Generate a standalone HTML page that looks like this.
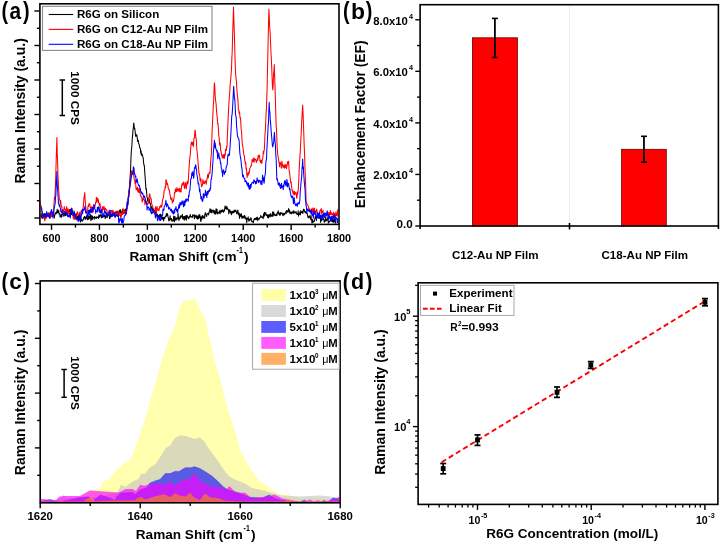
<!DOCTYPE html>
<html><head><meta charset="utf-8"><style>
html,body{margin:0;padding:0;background:#fff;}
svg{display:block;will-change:transform;}
text{font-family:"Liberation Sans",sans-serif;font-weight:bold;fill:#000;}
</style></head><body>
<svg width="721" height="543" viewBox="0 0 721 543">
<defs>
<clipPath id="ca"><rect x="40.6" y="4.6" width="297.6" height="219"/></clipPath>
<clipPath id="cc"><rect x="41" y="281.7" width="298.3" height="220.3"/></clipPath>
</defs>
<g clip-path="url(#ca)" fill="none" stroke-linejoin="round">
<path d="M39.8 215.31L40.13 216.57L40.46 213.72L40.79 216.8L41.12 213.49L41.45 216.24L41.78 218.01L42.11 215.6L42.44 218.44L42.77 213.39L43.1 214.69L43.43 214.18L43.76 215.56L44.09 216.65L44.42 213.66L44.75 213.75L45.08 213.54L45.41 214.42L45.74 218.53L46.07 214.94L46.4 214.26L46.73 214.78L47.06 214.08L47.39 214.03L47.72 215.38L48.05 214.19L48.38 214.18L48.71 214.36L49.04 215.41L49.37 213.45L49.7 214.75L50.03 215.52L50.36 214.73L50.69 214.55L51.02 213.86L51.35 212.14L51.68 215.42L52.01 216.58L52.34 216.59L52.67 216.12L53 214.67L53.35 215.35L53.7 216.39L54.05 215.23L54.4 217.94L54.75 214.98L55.1 213.26L55.45 212.64L55.8 214.06L56.15 213.21L56.5 212.02L56.85 213.12L57.2 209.16L57.57 211.47L57.94 212.6L58.31 211.9L58.69 210.22L59.06 214.24L59.43 214.18L59.8 213.68L60.14 217.27L60.48 215.56L60.82 216.48L61.16 214.71L61.5 217.15L61.84 216.71L62.18 212.59L62.52 213.27L62.86 214.23L63.2 214.44L63.54 213.09L63.88 214.6L64.22 213.07L64.56 213.18L64.9 215.99L65.24 212.32L65.58 213.21L65.92 215.74L66.26 210.01L66.6 213.1L66.94 209.82L67.28 212.86L67.62 216.11L67.96 212.25L68.3 210.94L68.64 210.21L68.98 209.94L69.32 212.2L69.66 209.47L70 211.98L70.34 209.73L70.68 209.17L71.02 213.33L71.36 214.68L71.69 211.65L72.03 211.12L72.37 210.44L72.71 215.51L73.05 215.9L73.39 213.77L73.73 213.5L74.07 211.1L74.41 213.89L74.74 215.07L75.08 216.59L75.42 217.29L75.76 214.4L76.1 216.75L76.43 219.3L76.77 217.96L77.1 217.67L77.43 215.98L77.77 219.03L78.1 218.23L78.43 214.89L78.77 216.9L79.1 217.01L79.43 219.62L79.77 218.01L80.1 220.16L80.44 221.97L80.78 220.9L81.12 220.56L81.46 218.79L81.8 219.95L82.14 221.24L82.48 220.24L82.82 220.24L83.16 220.24L83.5 218.39L83.84 217.28L84.18 217.8L84.52 216.48L84.86 216.7L85.2 219.6L85.54 217.53L85.87 218.63L86.21 217.43L86.55 215.71L86.88 216.85L87.22 218.84L87.56 219.72L87.89 219.72L88.23 215.65L88.57 217.39L88.9 219.06L89.24 218.66L89.58 216.69L89.91 215.5L90.25 214.14L90.59 218.28L90.92 220.79L91.26 215.24L91.6 218L91.93 218.98L92.27 219.8L92.61 216.12L92.94 217.75L93.28 217.85L93.62 217.42L93.95 217.47L94.29 219.14L94.63 216.41L94.96 218.03L95.3 217.72L95.64 217.21L95.98 218.06L96.32 218.45L96.66 216.78L97 217.48L97.34 216.93L97.68 217.17L98.02 218.04L98.36 218.44L98.7 215.87L99.04 214.89L99.38 215.87L99.72 217.28L100.06 214.98L100.4 215.79L100.74 215.64L101.07 214.39L101.41 217.74L101.75 216.01L102.08 217.61L102.42 215.87L102.76 214.05L103.09 216.86L103.43 216.46L103.77 215.67L104.1 216.43L104.44 214.87L104.78 215.17L105.11 218.37L105.45 218.22L105.79 217.33L106.12 215.44L106.46 216.1L106.8 215.78L107.13 217.78L107.47 215.07L107.81 215.83L108.14 214.89L108.48 212.76L108.82 213.68L109.15 213.84L109.49 218.65L109.83 217.33L110.16 217.84L110.5 215.3L110.84 216.66L111.17 215.41L111.51 214.27L111.85 216.3L112.19 212.43L112.53 214.11L112.86 211.53L113.2 211.77L113.54 214.1L113.88 214.29L114.21 212.27L114.55 212.82L114.89 214.3L115.22 213.68L115.56 212.37L115.9 215.7L116.24 211.38L116.57 213.55L116.91 212.62L117.25 213.49L117.59 211.28L117.92 213.57L118.26 212.06L118.6 213.08L118.94 212.66L119.28 213.74L119.62 210.07L119.97 209.84L120.31 209.54L120.65 213.28L120.99 213.36L121.33 212.03L121.67 212.15L122.02 213.03L122.36 209.6L122.7 212.93L123.03 210.28L123.37 210.81L123.7 212.83L124.03 209.75L124.37 213.32L124.7 211.46L125.03 210.07L125.37 209.56L125.7 211.81L126.13 208.25L126.57 208.84L127 208.67L127.34 205.06L127.69 202.69L128.03 198.41L128.38 197.11L128.72 191.59L129.07 190.51L129.41 187.01L129.76 181.55L130.1 177.19L130.47 171.91L130.83 162.33L131.2 152.93L131.56 148.81L131.91 145.57L132.27 138.27L132.63 135.44L132.99 129.97L133.34 127.56L133.7 122.92L134.05 125.31L134.4 128.97L134.75 128.22L135.1 130.96L135.45 134.9L135.8 136.48L136.15 134.53L136.5 135.98L136.86 134.89L137.21 137.76L137.57 141.43L137.92 140.01L138.28 140.41L138.63 143.36L138.99 144.1L139.34 145L139.7 147.92L140.04 147.78L140.39 149.23L140.73 153.23L141.08 150.83L141.42 155.35L141.77 153.72L142.11 154.56L142.46 154.71L142.8 156.92L143.18 157.66L143.55 162.24L143.93 165.16L144.3 165.18L144.73 172.1L145.17 177.8L145.6 184.14L145.95 189.38L146.3 188.51L146.65 192.61L147 197.21L147.35 197.79L147.7 201.2L148.06 201.24L148.42 201.13L148.78 201.56L149.14 202.98L149.5 199.47L149.86 203.17L150.22 202.98L150.58 203.75L150.94 208.96L151.3 208.49L151.63 206.8L151.96 207.5L152.29 208.23L152.62 210.36L152.96 211.5L153.29 209.29L153.62 210.41L153.95 210.78L154.28 212.06L154.61 211.15L154.94 213.43L155.28 212.16L155.61 211.33L155.94 211.96L156.27 214.55L156.6 213.75L156.94 213.74L157.28 214.24L157.62 216.82L157.96 215.66L158.29 215.29L158.63 217.06L158.97 216.52L159.31 217.62L159.65 214.61L159.99 217.84L160.33 216.33L160.67 214.11L161.01 217.17L161.34 215.11L161.68 218.1L162.02 219.46L162.36 217.42L162.7 218.97L163.03 217.25L163.37 218.72L163.7 220.86L164.03 217.52L164.36 217.25L164.7 218.38L165.03 217.24L165.36 216.91L165.69 215.88L166.03 216.7L166.36 213.62L166.69 215.62L167.02 215.45L167.36 213.7L167.69 214.61L168.02 216.94L168.36 218.21L168.69 220.08L169.02 221.02L169.35 219L169.69 220.3L170.02 215.67L170.35 218.61L170.68 218.91L171.02 219.96L171.35 218.38L171.68 219.87L172.02 221.37L172.35 220.33L172.68 219.98L173.01 220.69L173.35 220.8L173.68 215.96L174.01 217.85L174.34 221.91L174.68 218.45L175.01 216.41L175.34 219.77L175.68 218.8L176.01 220.38L176.34 218.35L176.67 217.9L177.01 218.94L177.34 218.54L177.67 218.91L178 213.37L178.34 217.06L178.67 219.64L179 220.49L179.33 218.08L179.67 218.1L180 217.33L180.33 215.8L180.67 218.42L181 217.06L181.34 216.07L181.67 216.35L182 216.06L182.34 214.32L182.67 218.61L183.01 217.63L183.34 219.11L183.67 216.42L184.01 217.89L184.34 220.15L184.68 216.28L185.01 218.66L185.34 218.92L185.68 216.81L186.01 215.46L186.35 220.3L186.68 216.68L187.01 215.35L187.35 215.96L187.68 217.43L188.02 217L188.35 218.64L188.69 217.46L189.02 218.55L189.35 216.15L189.69 216.37L190.02 216.91L190.36 214.63L190.69 217.03L191.02 216.46L191.36 216.92L191.69 217.02L192.03 216.5L192.36 217.56L192.69 214.7L193.03 215.18L193.36 214.99L193.7 215.89L194.03 215.45L194.36 218.84L194.7 214.88L195.03 217.09L195.37 216.22L195.7 217.15L196.03 215.13L196.36 216.78L196.7 218.38L197.03 217.68L197.36 216.32L197.69 219.17L198.02 218.93L198.36 215.12L198.69 218.51L199.02 216.26L199.35 217.69L199.68 214.41L200.01 216.34L200.35 217.09L200.68 221.34L201.01 221.39L201.34 217.03L201.67 216.74L202.01 218.86L202.34 215.23L202.67 217.36L203 216.72L203.33 218.04L203.67 217.23L204 215.89L204.33 216.87L204.66 218.5L204.99 214.29L205.33 212.64L205.66 213.33L205.99 214.42L206.32 215.66L206.65 216.43L206.99 214.5L207.32 213.95L207.65 213.42L207.98 213.93L208.31 213.37L208.64 215.01L208.98 212.46L209.31 211.47L209.64 211.66L209.97 208.85L210.3 212.31L210.64 210.96L210.97 209.19L211.3 212.78L211.64 210.4L211.97 212.88L212.31 210.83L212.64 210.22L212.98 210.14L213.31 210.04L213.65 212.38L213.99 210.4L214.32 213.88L214.66 211.14L214.99 212.37L215.33 212.95L215.66 214.17L216 208.86L216.34 209.17L216.67 212.86L217.01 209.16L217.34 214.05L217.68 213.86L218.01 212.46L218.35 212.85L218.69 212.47L219.02 213.05L219.36 210.72L219.69 210.92L220.03 213.92L220.36 211.57L220.7 211.31L221.04 209.91L221.38 211.64L221.71 212.21L222.05 211.16L222.39 209.78L222.73 211.33L223.07 210.34L223.4 212.29L223.74 211.69L224.08 209.93L224.42 210.91L224.76 208.42L225.1 205.89L225.43 206.95L225.77 208.62L226.11 207.82L226.45 209.12L226.79 206.4L227.12 207.4L227.46 209.09L227.8 208.89L228.13 209.96L228.47 209.54L228.8 214.03L229.13 209.93L229.47 210.68L229.8 209.71L230.13 212.01L230.47 212.95L230.8 211.25L231.13 211.94L231.47 214.64L231.8 213.46L232.13 211.19L232.47 212.03L232.8 212.87L233.13 211.23L233.47 212.51L233.8 212.64L234.13 209.96L234.47 210.79L234.8 212.04L235.14 211.35L235.48 210.47L235.82 210.12L236.16 211.29L236.5 212.39L236.83 213.87L237.17 213.25L237.51 211.27L237.85 210.09L238.19 213.34L238.53 214.76L238.87 212.71L239.21 215.32L239.55 218.45L239.89 214L240.23 214.88L240.57 215.91L240.9 216.44L241.24 213.62L241.58 215.78L241.92 218.55L242.26 217.45L242.6 216.11L242.95 217.32L243.29 217.85L243.64 216.66L243.99 217.53L244.33 215.32L244.68 218.06L245.03 216.01L245.37 219.01L245.72 218.45L246.07 217.77L246.41 218.39L246.76 222.89L247.11 218.35L247.45 219.27L247.8 218.9L248.14 216.87L248.49 219.3L248.83 221.28L249.17 220.87L249.52 219.03L249.86 219.23L250.2 220.15L250.55 219.41L250.89 217.65L251.23 218.75L251.58 220.94L251.92 221.85L252.27 221.6L252.61 221.86L252.95 221.32L253.3 222.87L253.64 220.62L253.98 219.61L254.33 218.47L254.67 218.88L255.01 219.77L255.36 218.2L255.7 218.49L256.04 218.88L256.38 219.73L256.71 217.31L257.05 217.3L257.39 217.37L257.73 220.78L258.06 218.68L258.4 218.66L258.74 218.32L259.08 219.37L259.42 217.93L259.75 218.21L260.09 217.5L260.43 216.9L260.77 215.48L261.11 216.78L261.44 217.2L261.78 216.72L262.12 217.46L262.46 217.12L262.79 217.37L263.13 218.81L263.47 214.18L263.81 216.91L264.15 212.83L264.48 215.97L264.82 212.16L265.16 214.05L265.5 213.11L265.84 213L266.17 215.59L266.51 214.7L266.85 215.52L267.19 214.82L267.52 217.55L267.86 216.55L268.2 214.81L268.53 218.07L268.87 215.08L269.2 215.01L269.54 214.52L269.87 216.6L270.2 216.84L270.54 213.58L270.87 214.74L271.21 216.13L271.54 215.33L271.87 215.19L272.21 216.43L272.54 211.86L272.88 213.85L273.21 216.07L273.54 212.05L273.88 212.72L274.21 214.94L274.55 215.26L274.88 214.4L275.21 215.69L275.55 214.84L275.88 215.5L276.22 215.42L276.55 213.85L276.89 215.56L277.22 213.6L277.55 212.41L277.89 212.02L278.22 210.86L278.56 213.92L278.89 212.93L279.22 214.61L279.56 213.08L279.89 215.4L280.23 215.07L280.56 212.46L280.89 213.63L281.23 212.98L281.56 213.68L281.9 213.58L282.23 213.05L282.56 214.04L282.9 215.73L283.23 215.53L283.57 213.4L283.9 213.55L284.23 214.28L284.56 214.75L284.9 213.95L285.23 212.65L285.56 211.91L285.89 212.51L286.22 213.34L286.56 210.78L286.89 210.56L287.22 211.15L287.55 212.09L287.88 210.68L288.21 211.7L288.55 208.44L288.88 211.89L289.21 210.35L289.54 209.85L289.87 213.44L290.21 212.97L290.54 211.99L290.87 212.92L291.2 213.93L291.53 213.34L291.87 211.85L292.2 213L292.53 212.83L292.86 212.92L293.19 210.74L293.53 213.55L293.86 211.06L294.19 211.7L294.52 212.49L294.85 213.05L295.19 211.89L295.52 212.73L295.85 212.16L296.18 211.77L296.51 213.81L296.84 213.46L297.18 214.49L297.51 214.33L297.84 214.46L298.17 210.69L298.5 216.29L298.84 214.04L299.17 214.58L299.5 214.16L299.83 212.12L300.16 214.34L300.49 214.74L300.82 210.51L301.15 211.76L301.48 212.53L301.82 212.2L302.15 211.43L302.48 212.65L302.81 213.43L303.14 212.21L303.47 209.15L303.8 210.33L304.15 209.46L304.51 211.39L304.86 211.71L305.22 212.78L305.57 211.49L305.92 212.69L306.28 212.21L306.63 213.41L306.98 212.45L307.34 214.3L307.69 216.01L308.05 217.57L308.4 217.78L308.73 217.11L309.06 216.17L309.39 215.78L309.73 217.28L310.06 216.98L310.39 219.27L310.72 217.46L311.05 214.94L311.38 220.26L311.71 219.72L312.05 224.46L312.38 219.18L312.71 222.34L313.04 220.68L313.37 221.41L313.7 221.83L314.03 221.58L314.37 221.3L314.7 218.87L315.03 218.52L315.36 215.97L315.69 218.19L316.02 215.94L316.35 220.59L316.69 217.58L317.02 216.91L317.35 217.64L317.68 216.59L318.01 217.83L318.34 216.83L318.67 216.13L319.01 218.31L319.34 215.23L319.67 218L320 218.52L320.33 215.63L320.67 222.38L321 218.95L321.33 219.7L321.67 220.44L322 218.09L322.33 218.5L322.67 218.73L323 219.42L323.33 218.37L323.67 219.91L324 220.34L324.33 222.34L324.67 220.13L325 221.44L325.33 221.17L325.67 216.87L326 219.22L326.33 219.13L326.67 220.85L327 220.13L327.33 219.83L327.67 218.69L328 217.27L328.33 223.67L328.67 221.99L329 221.69L329.33 222.04L329.67 221.07L330 221.12L330.33 220.23L330.67 218.51L331 220.7L331.33 219.06L331.67 220.4L332 221.17L332.33 219.72L332.67 222.04L333 219.35L333.33 219.99L333.67 222.41L334 219.93L334.33 221.01L334.67 218.86L335 221.49L335.33 223.4L335.67 223.85L336 221.55" stroke="#000" stroke-width="1.05"/>
<path d="M39.8 199.52L40.14 200.99L40.48 204.71L40.82 206.5L41.16 206.21L41.5 207.96L41.87 211.22L42.24 214.91L42.61 217.15L42.99 217.94L43.36 216.59L43.73 217.87L44.1 217.96L44.46 217.7L44.83 221.03L45.19 218.7L45.55 218.34L45.91 215.64L46.27 215.23L46.64 217.93L47 214.3L47.36 214.18L47.71 215.5L48.07 212.51L48.42 215.68L48.78 213.99L49.13 212.97L49.49 215.78L49.84 215.2L50.2 216.41L50.55 217.98L50.9 213.44L51.25 215.62L51.6 213.51L51.95 216.58L52.3 216.24L52.65 215.11L53 212.6L53.35 214.23L53.7 209.54L54.06 202.76L54.42 197.23L54.78 198.9L55.14 190.98L55.5 182.61L55.85 172.96L56.2 159.51L56.55 148.2L56.9 137.56L57.23 153.24L57.57 160.98L57.9 173.79L58.27 181.64L58.63 189.08L59 194.37L59.34 198.85L59.68 199.82L60.02 200.98L60.36 203.87L60.7 200.42L61.06 204.49L61.42 206.84L61.78 206.15L62.14 212.71L62.5 210.62L62.85 209.61L63.2 210.55L63.55 214.38L63.9 210.17L64.25 206.51L64.6 208.96L64.95 209.24L65.3 209.02L65.65 212.41L66 212.01L66.33 211.35L66.67 206.45L67 209.54L67.33 210.46L67.67 212.94L68 208.78L68.33 213.38L68.67 210.71L69 212.58L69.33 212.98L69.67 214.51L70 213.06L70.33 212.69L70.67 212.66L71 212.57L71.33 209.47L71.67 208.06L72 208.67L72.35 210.61L72.7 211.74L73.05 215.39L73.4 218.99L73.75 216.79L74.1 218.67L74.43 216.57L74.77 219.45L75.1 218.9L75.43 218.41L75.77 216.64L76.1 213.85L76.43 216.52L76.77 213.16L77.1 212.8L77.43 211.76L77.77 213.56L78.1 214.8L78.44 215.15L78.78 214.44L79.12 215.22L79.47 212.37L79.81 214.88L80.15 216.23L80.49 214.26L80.83 212.3L81.17 210.64L81.52 211L81.86 211.77L82.2 212.56L82.56 210.4L82.91 208.67L83.27 207.3L83.63 202.13L83.99 197.22L84.34 195.99L84.7 192.61L85.08 198.94L85.45 203.59L85.83 207.3L86.2 210.4L86.54 211.32L86.89 212L87.23 210.7L87.58 211.47L87.92 206.96L88.27 205.45L88.61 206.37L88.96 203.49L89.3 204.79L89.63 203.89L89.97 205.31L90.3 207.67L90.63 207.4L90.97 209.06L91.3 207.28L91.63 206.7L91.97 209.87L92.3 212.34L92.64 210.95L92.98 211.01L93.32 211.91L93.66 204.48L94 208.77L94.34 206.05L94.68 207.92L95.02 205.39L95.36 204.23L95.7 201.79L96.04 202.7L96.38 197.21L96.72 201.9L97.06 199.61L97.4 198.91L97.73 198.1L98.07 202.12L98.4 199.88L98.73 202.91L99.07 203.19L99.4 205.62L99.73 203.35L100.07 203.57L100.4 207.96L100.74 206.67L101.08 210.44L101.42 210.77L101.76 209.39L102.1 212.1L102.44 208.57L102.78 206.56L103.12 206.56L103.46 208.21L103.8 209.82L104.14 206.6L104.48 209.74L104.82 209.96L105.16 208.92L105.5 208.17L105.83 209.35L106.17 209.66L106.5 210.27L106.83 209.89L107.17 212.32L107.5 214.31L107.83 213.8L108.17 214.3L108.5 215.26L108.83 212.24L109.17 211.53L109.5 214.49L109.83 214.17L110.17 212.03L110.5 213.08L110.84 213.77L111.18 212.15L111.52 210.33L111.86 210.58L112.2 211.54L112.54 212.91L112.88 210.13L113.22 213.6L113.56 212.91L113.9 212.69L114.24 213L114.58 214.33L114.92 213.88L115.26 217.49L115.6 213.86L115.94 211.39L116.28 215.58L116.62 215.27L116.96 214.71L117.3 213.36L117.64 215.54L117.98 210.75L118.32 214.99L118.66 215.65L119 214.16L119.34 215.01L119.68 212.29L120.02 215.92L120.36 214.65L120.7 217.46L121.03 214.82L121.37 216.5L121.7 212.84L122.03 214.91L122.37 214.6L122.7 213.94L123.03 208.39L123.37 213.85L123.7 213.1L124.03 210.16L124.37 210.07L124.7 210.58L125.03 212.51L125.37 213.73L125.7 215.33L126.08 211.04L126.47 211.52L126.85 211L127.23 208.03L127.62 205.02L128 202.76L128.36 196.67L128.71 194.35L129.07 191.3L129.42 188.09L129.78 186.33L130.13 182.23L130.49 183.16L130.84 178.56L131.2 177.06L131.54 170.74L131.88 174.52L132.22 172.79L132.56 171.36L132.9 171.23L133.26 171.09L133.62 174.91L133.98 176.85L134.34 179.77L134.7 180.1L135.06 183.58L135.42 180.64L135.78 185.43L136.14 189.65L136.5 187.91L136.85 189.09L137.2 190.14L137.55 187.17L137.9 191.91L138.25 189.01L138.6 189.33L138.95 192.68L139.3 188.64L139.65 192.52L140 191.88L140.35 194.91L140.7 195.32L141.06 197.06L141.41 196.95L141.77 196.8L142.12 201.99L142.48 201.52L142.83 198.66L143.19 198.27L143.54 199.75L143.9 199.72L144.26 199.95L144.61 200.78L144.97 204.85L145.32 199.21L145.68 200.43L146.03 203.29L146.39 202.46L146.74 203.33L147.1 203.91L147.44 204.63L147.78 204.29L148.11 204.13L148.45 197.98L148.79 200.74L149.12 197.88L149.46 193.85L149.8 194.18L150.17 196.81L150.54 197.39L150.91 199.41L151.29 198.92L151.66 203.26L152.03 205.01L152.4 205.67L152.77 207.51L153.14 207.5L153.51 209.65L153.89 210.76L154.26 211.83L154.63 213.82L155 208.64L155.35 209.44L155.7 206.57L156.05 208.59L156.4 213.37L156.75 210.67L157.1 206.6L157.45 209.77L157.8 209.8L158.15 210.25L158.5 210.47L158.86 208.61L159.21 210.32L159.57 206.64L159.92 206.77L160.28 207.38L160.63 205.21L160.99 205.24L161.34 205.96L161.7 207.14L162.05 204.39L162.4 201.08L162.75 199.13L163.1 197.96L163.45 197.95L163.8 194.29L164.15 190.63L164.5 189.98L164.85 189.85L165.2 186.3L165.55 187.79L165.9 179.7L166.26 180.26L166.61 181.46L166.97 184.84L167.32 183.23L167.68 184.04L168.03 186.46L168.39 188.81L168.74 188.99L169.1 190.17L169.46 189.89L169.81 194.25L170.17 194.31L170.52 198.39L170.88 199.27L171.23 199.61L171.59 199.25L171.94 197.61L172.3 203.08L172.63 200.75L172.96 200.58L173.29 201.67L173.62 199.21L173.96 199.28L174.29 194.79L174.62 192.17L174.95 193.07L175.28 189.97L175.61 188.81L175.94 191.76L176.28 189.48L176.61 191.37L176.94 187.61L177.27 190.13L177.6 188.96L177.95 191.33L178.3 190.12L178.65 190.21L179 188.4L179.35 191.45L179.7 189.6L180.05 188.51L180.4 192.14L180.75 191.38L181.1 191.8L181.45 187.51L181.8 185.2L182.14 183.57L182.47 183.62L182.81 185.26L183.15 182.28L183.48 184.06L183.82 182.01L184.16 186.12L184.49 188.54L184.83 186.84L185.17 184.78L185.51 182.67L185.84 184.42L186.18 188.91L186.52 187.59L186.85 183.64L187.19 181.23L187.53 184.09L187.86 183.94L188.2 181.86L188.53 176.73L188.87 170.83L189.2 166.02L189.53 160.78L189.87 157.3L190.2 155.57L190.57 149.96L190.93 144.74L191.3 142.72L191.67 141.98L192.03 144.33L192.4 144.87L192.77 142.33L193.13 144.87L193.5 146.46L193.85 138.87L194.2 137.52L194.55 137.87L194.9 130.23L195.24 130.6L195.58 134.71L195.92 137.82L196.26 138.79L196.6 145.55L196.97 150.76L197.33 153.51L197.7 157.53L198.07 162.96L198.43 166.84L198.8 171.17L199.14 174.02L199.49 173.74L199.83 176.96L200.18 181.11L200.52 180.19L200.87 178.64L201.21 184.26L201.56 186.7L201.9 186.18L202.24 184.51L202.58 184.8L202.91 179.42L203.25 183.62L203.59 181.06L203.93 182.13L204.26 183.25L204.6 183.56L204.94 182L205.28 180.85L205.61 180.94L205.95 181.46L206.29 184.28L206.62 181.15L206.96 179.11L207.3 178.06L207.64 174.75L207.98 174.36L208.31 178.01L208.65 175.46L208.99 173.24L209.32 172.42L209.66 172.51L210 173.37L210.43 165.01L210.87 158.2L211.3 154.98L211.68 145.72L212.05 132.89L212.43 124.6L212.8 117.14L213.2 107.06L213.6 101.81L214 90.54L214.4 82.87L214.76 86.37L215.12 94.18L215.48 99.69L215.84 101.95L216.2 105.29L216.56 111.6L216.92 114.78L217.28 117.86L217.64 123.65L218 123.32L218.38 128.29L218.75 135.4L219.12 137.13L219.5 142.92L219.88 145.58L220.25 143.06L220.62 150.35L221 150.73L221.35 153.38L221.7 155.3L222.05 156.52L222.4 157.95L222.75 155.38L223.1 154.75L223.45 158.16L223.8 156.89L224.16 154.39L224.51 158.18L224.87 154.2L225.22 155.29L225.58 149.15L225.93 148.97L226.29 150.44L226.64 146.11L227 146.98L227.33 136.46L227.67 129.73L228 121.49L228.33 114.59L228.67 107.32L229 101.94L229.36 96.74L229.71 93.06L230.07 85.96L230.43 81.87L230.79 78.43L231.14 73.46L231.5 69.49L231.83 58.24L232.17 53.19L232.5 39.96L232.83 28.45L233.17 18.9L233.5 7.11L233.88 19.27L234.26 31.14L234.64 43.72L235.02 57.46L235.4 70.01L235.78 75.77L236.16 79.09L236.54 83.1L236.92 90.13L237.3 94.2L237.67 97.64L238.03 101.16L238.4 109.41L238.8 109.89L239.2 113.79L239.6 112.03L240 117.89L240.38 117.64L240.77 121.92L241.15 129.05L241.53 131.48L241.92 138.25L242.3 144.31L242.64 146.04L242.99 147.3L243.33 151.18L243.67 153.51L244.01 155.28L244.36 156.08L244.7 160.33L245.04 161.5L245.39 164.2L245.73 162.4L246.08 169.05L246.42 168.11L246.77 173.57L247.11 177.64L247.46 173.13L247.8 174.39L248.13 175.1L248.47 174.9L248.8 171.93L249.13 173.21L249.47 172.27L249.8 168.63L250.13 167.88L250.47 166.56L250.8 166.58L251.13 165.2L251.47 165.74L251.8 163.07L252.15 159.21L252.51 161.58L252.86 161.37L253.22 160.77L253.57 158.12L253.93 162.21L254.28 161.34L254.64 158.48L254.99 159.6L255.35 159.26L255.7 159.59L256.05 161.1L256.41 162.46L256.76 160.51L257.12 159.65L257.47 158.24L257.83 160.3L258.18 155.31L258.54 156.88L258.89 157.14L259.25 155.12L259.6 156.5L259.98 161.22L260.37 160.31L260.75 162.8L261.13 162.33L261.52 160.35L261.9 163.38L262.24 159.58L262.59 159.2L262.93 157.13L263.27 151.38L263.61 153.62L263.96 151.01L264.3 149.72L264.64 143.76L264.99 134.19L265.33 130.97L265.67 123.44L266.01 114.71L266.36 109.4L266.7 100.46L267.07 89.44L267.43 72.02L267.8 57.21L268.17 39.57L268.53 23.03L268.9 9.02L269.25 16.77L269.61 25.24L269.96 30.05L270.32 36.98L270.67 44.5L271.03 54.07L271.38 58.66L271.74 68.44L272.09 77.42L272.45 86.64L272.8 90.03L273.18 85.3L273.55 74.27L273.93 70.79L274.3 64.54L274.67 77.19L275.03 87.35L275.4 100.17L275.75 112.19L276.1 124.28L276.48 129.17L276.86 139.47L277.24 148.07L277.62 153.63L278 156.43L278.4 158.61L278.8 161.46L279.2 163.7L279.54 166.84L279.89 163.26L280.23 162.21L280.58 163.28L280.92 164.21L281.27 168.32L281.61 164.46L281.96 161.16L282.3 165.18L282.64 164.21L282.99 167.78L283.33 165.73L283.68 166.97L284.02 165.16L284.37 168.13L284.71 164.66L285.06 165.98L285.4 167.38L285.76 164.69L286.11 164.98L286.47 168.83L286.82 166.09L287.18 165.29L287.53 162.54L287.89 161.54L288.24 163.96L288.6 161.17L288.98 168.14L289.35 171.94L289.73 173.43L290.1 177.56L290.45 181.24L290.81 183.11L291.16 181.73L291.52 185.75L291.87 188.65L292.23 190.98L292.58 190.13L292.94 193.56L293.29 191.61L293.65 194.55L294 194.82L294.33 191.37L294.67 194.66L295 193.72L295.33 193L295.67 192.31L296 193.49L296.33 194.57L296.67 198.27L297 197.58L297.33 191.89L297.67 194.56L298 191.69L298.4 187.64L298.8 179.05L299.2 169.32L299.55 162.89L299.9 157.14L300.25 152.46L300.6 144.44L300.95 137.7L301.3 131.58L301.65 121.34L302 117.34L302.35 110.49L302.7 105.1L303.08 113.89L303.47 124.16L303.85 135.52L304.23 146.61L304.62 155.11L305 168.79L305.37 177.7L305.73 187.83L306.1 201.45L306.45 202.44L306.8 204.34L307.15 203.92L307.5 205.01L307.85 205.37L308.2 206.05L308.55 206.28L308.9 209.79L309.25 209.54L309.6 208.85L309.93 209.57L310.27 212.13L310.6 210.12L310.93 211.11L311.27 210.8L311.6 208.9L311.93 209.87L312.27 208.05L312.6 212.17L312.93 212.38L313.27 214.11L313.6 208.77L313.93 208.69L314.27 208L314.6 208.69L314.93 212.9L315.27 213.95L315.6 211.13L315.93 211L316.27 212.06L316.6 209.09L316.93 210.63L317.27 213.23L317.6 213.1L317.93 212.95L318.27 215.45L318.6 213.67L318.94 213.47L319.27 214.67L319.6 213.69L319.94 210.51L320.27 211.04L320.6 209.6L320.94 210.28L321.27 208.53L321.61 213.52L321.94 211.54L322.27 212.55L322.61 212.51L322.94 210.01L323.28 212.63L323.61 214.4L323.94 214.23L324.28 217.12L324.61 214.63L324.95 213.74L325.28 215.67L325.61 215.38L325.95 214.43L326.28 213.93L326.61 214.3L326.95 213.86L327.28 215.31L327.62 215.49L327.95 214.56L328.28 212.73L328.62 214.04L328.95 212.55L329.29 214.74L329.62 214.45L329.95 214.55L330.29 210.4L330.62 212.25L330.95 215.07L331.29 212.67L331.62 212.96L331.96 213.36L332.29 214.39L332.62 213.87L332.96 215.39L333.29 218.34L333.63 212.03L333.96 215.4L334.29 218.04L334.63 213.42L334.96 217.06L335.3 218.66L335.63 216.25L335.96 211.68L336.3 214.14L336.63 215.55L336.96 214.12L337.3 216.11L337.63 210.27L337.97 209.32L338.3 213.48" stroke="#f00" stroke-width="1.05"/>
<path d="M39.8 203.77L40.15 202.79L40.5 206.37L40.85 208.3L41.2 208.02L41.55 208.08L41.9 210.91L42.25 212.16L42.6 213.61L42.95 217.15L43.3 215.4L43.65 215.28L44 217.39L44.33 217.19L44.67 214.62L45 214.88L45.33 215.89L45.67 216.7L46 215.94L46.33 216.84L46.67 211.51L47 216.51L47.33 214.05L47.67 216.34L48 214.59L48.34 213.96L48.67 216.86L49.01 216.05L49.34 216.82L49.68 218.29L50.01 216.77L50.35 211.76L50.68 213.44L51.02 211.73L51.35 210.03L51.69 209.46L52.02 212.88L52.36 213.91L52.69 212.34L53.03 218.32L53.36 212L53.7 212.92L54.06 208.74L54.42 206.82L54.78 204.76L55.14 204.29L55.5 197.44L55.85 195.32L56.2 184.14L56.55 180.95L56.9 171.41L57.3 185.35L57.7 190.81L58.1 197.08L58.5 203.72L58.9 204.12L59.3 206.21L59.68 204.68L60.07 207.35L60.45 208.29L60.83 211.75L61.22 212.02L61.6 211.52L61.94 212.48L62.28 210.13L62.62 212.4L62.95 213.68L63.29 214.84L63.63 216.29L63.97 213.68L64.31 213.08L64.65 211.21L64.98 213.25L65.32 213.23L65.66 213.95L66 213.08L66.33 213.49L66.67 214.83L67 213.86L67.33 215.75L67.67 214.98L68 216.66L68.33 215.33L68.67 215.4L69 217.02L69.33 215.82L69.67 213.9L70 214.78L70.33 217.89L70.67 212.09L71 209.4L71.33 210.7L71.67 208.25L72 210.4L72.34 212.49L72.68 211.34L73.03 212.82L73.37 214.48L73.71 215.34L74.05 214.67L74.39 212.53L74.73 216.78L75.07 213.68L75.42 215.94L75.76 216.76L76.1 218.07L76.43 219.8L76.77 219.34L77.1 218.9L77.43 219.76L77.77 218.53L78.1 221.5L78.43 220.39L78.77 221.14L79.1 216.89L79.43 214.9L79.77 216.34L80.1 215.81L80.45 218.62L80.81 219.83L81.16 216.68L81.52 213.66L81.87 214.3L82.22 209.17L82.58 213.59L82.93 210.22L83.28 210.68L83.64 209.77L83.99 208.58L84.35 209.7L84.7 207.65L85.06 206.24L85.41 210.71L85.77 213.13L86.13 211.45L86.49 212.84L86.84 212.19L87.2 214.72L87.54 217.25L87.89 216.15L88.23 213.39L88.57 210.62L88.91 210.13L89.26 214.44L89.6 212.31L89.94 210.41L90.29 209.27L90.63 212.41L90.97 211.23L91.31 209.11L91.66 211.96L92 212.73L92.34 207.08L92.67 207.5L93.01 210.57L93.35 207.83L93.69 207.96L94.03 206.29L94.36 204.92L94.7 208.67L95.04 209.29L95.38 209.66L95.71 213.36L96.05 211.65L96.39 211.33L96.73 210.65L97.06 210.87L97.4 207.22L97.73 211.91L98.07 211.2L98.4 206.81L98.73 207.63L99.07 207.24L99.4 209.36L99.73 212.56L100.07 209.71L100.4 213.23L100.74 210.63L101.08 210.79L101.42 212.92L101.76 209.32L102.1 213.58L102.44 216.34L102.78 217.4L103.12 216.01L103.46 213.97L103.8 213.44L104.14 212.78L104.48 211.17L104.82 210.37L105.16 213.27L105.5 211.88L105.83 213.06L106.17 216.05L106.5 213.54L106.83 212.69L107.17 215.48L107.5 214.55L107.83 214.8L108.17 214.47L108.5 215.55L108.83 214.26L109.17 210.51L109.5 213.02L109.83 212.38L110.17 210.01L110.5 215.43L110.85 216.61L111.19 214.63L111.54 216.6L111.88 215.86L112.23 215.57L112.58 216.34L112.92 213.36L113.27 213.9L113.62 215.49L113.96 213.47L114.31 216.13L114.65 213.05L115 217.26L115.34 215.65L115.67 216.2L116.01 215.28L116.34 215.09L116.68 215L117.01 215.97L117.35 216.43L117.68 215.63L118.02 214.96L118.35 214.82L118.69 222.25L119.02 224.48L119.36 218.82L119.69 221.3L120.03 219.18L120.36 219L120.7 219.61L121.03 217.69L121.37 221.12L121.7 223.41L122.03 223.17L122.37 218.45L122.7 225.32L123.03 223.16L123.37 221.55L123.7 220.99L124.08 217.24L124.47 215.91L124.85 215.37L125.23 214.68L125.62 212.82L126 213.54L126.33 213.78L126.67 207.67L127 202.09L127.33 206.37L127.67 203.13L128 205.03L128.36 197.92L128.71 196.02L129.07 196.88L129.42 191.02L129.78 187.74L130.13 186.28L130.49 183.35L130.84 179.64L131.2 177.01L131.56 176.27L131.91 174.07L132.27 174.5L132.63 172.35L132.99 172.77L133.34 166.75L133.7 167.39L134.05 168.37L134.4 174.33L134.75 173.51L135.1 175.88L135.45 176.74L135.8 176.06L136.15 181.77L136.5 182.25L136.86 181.02L137.21 178.99L137.57 181.36L137.92 183.73L138.28 184.27L138.63 185.44L138.99 185.82L139.34 185.39L139.7 187.35L140.04 188.37L140.39 188.9L140.73 192.12L141.08 191.44L141.42 193.23L141.77 192.35L142.11 194.04L142.46 193.19L142.8 193.6L143.16 195.3L143.51 196.19L143.87 198.05L144.22 197L144.58 196.06L144.93 197.7L145.29 198.6L145.64 202.15L146 200.89L146.35 203.24L146.7 202.77L147.05 209.98L147.4 207.9L147.75 207.12L148.1 207.02L148.43 207.41L148.76 207.07L149.09 210.42L149.42 210.17L149.75 208.9L150.08 209.53L150.42 209.64L150.75 212.28L151.08 207.54L151.41 213.7L151.74 212.88L152.07 212.34L152.4 212.67L152.73 213.13L153.07 212.87L153.4 209.43L153.73 210.16L154.07 211.47L154.4 212.34L154.73 214.14L155.07 214.11L155.4 217.91L155.73 215.64L156.07 214.22L156.4 214.28L156.75 215.71L157.1 217.72L157.45 220.1L157.8 220.73L158.15 218.41L158.5 217.51L158.85 218.08L159.2 216.08L159.55 220.3L159.9 220.25L160.25 218.75L160.6 220.59L160.93 219.57L161.26 216.3L161.59 216.25L161.93 216.86L162.26 215.49L162.59 215.39L162.92 209.09L163.25 210.7L163.58 208.94L163.91 210.32L164.24 206.05L164.57 205.8L164.91 205.21L165.24 204.17L165.57 202.51L165.9 200.19L166.24 204.22L166.59 206.85L166.93 203.78L167.28 204.63L167.62 204.39L167.97 205.51L168.31 206.91L168.66 209.04L169 207.8L169.33 208.24L169.66 207.64L169.99 209.15L170.32 209.23L170.65 210.8L170.98 210.44L171.32 209.05L171.65 211.11L171.98 212.6L172.31 212.63L172.64 210.59L172.97 213.4L173.3 212.86L173.64 214L173.97 211.61L174.31 209.92L174.65 213.06L174.98 208.82L175.32 209.46L175.66 209.32L175.99 206.47L176.33 209.68L176.67 210.86L177.01 211.5L177.34 209.3L177.68 212.5L178.02 210.04L178.35 208.38L178.69 206.41L179.03 204.57L179.36 208.06L179.7 205.81L180.04 202.18L180.38 205.23L180.72 204.76L181.06 202.77L181.4 203.03L181.74 204.39L182.08 200.82L182.42 202.38L182.76 201.46L183.1 203.9L183.44 206.69L183.78 206.65L184.12 200.49L184.46 202.1L184.8 205.57L185.14 201.17L185.48 202.24L185.82 198.94L186.16 201.38L186.5 200.74L186.84 198.95L187.18 199.28L187.52 199.94L187.86 199.67L188.2 201.36L188.55 195.32L188.9 196.63L189.25 192.36L189.6 191.08L189.95 190.1L190.3 184.96L190.68 179.5L191.05 178.34L191.43 178.39L191.8 172.88L192.16 173.77L192.52 175.46L192.88 171.42L193.24 175.13L193.6 178.33L193.98 176.11L194.36 168.57L194.74 167.18L195.12 168.09L195.5 164.75L195.84 165.27L196.19 168.87L196.53 168.7L196.87 174.92L197.21 175.84L197.56 178.45L197.9 181.56L198.23 184.3L198.57 182.85L198.9 184.5L199.23 188.18L199.57 191.61L199.9 189.25L200.23 193.62L200.57 194.53L200.9 198.84L201.23 197.61L201.57 196.78L201.9 200.57L202.26 199.46L202.61 201.58L202.97 199.74L203.32 193.49L203.68 197.45L204.03 198.03L204.39 194.54L204.74 195.53L205.1 194.49L205.44 190.24L205.79 195.48L206.13 194.15L206.48 193.15L206.82 197.75L207.17 191.2L207.51 194.73L207.86 191.36L208.2 193.68L208.54 190.44L208.89 190.82L209.23 190.45L209.58 191.44L209.92 188.44L210.27 190.02L210.61 188.35L210.96 179.76L211.3 179.58L211.64 177.35L211.99 174.93L212.33 169.83L212.67 165.06L213.01 160.19L213.36 152.02L213.7 148.79L214.05 145.42L214.4 140.26L214.77 147.66L215.13 142.8L215.5 145.77L215.86 148.53L216.22 150.25L216.58 149.83L216.94 152.42L217.3 150.41L217.66 158.63L218.02 156.48L218.38 156.45L218.74 152.7L219.1 156.44L219.46 159.05L219.81 157.84L220.17 160.42L220.52 163.65L220.88 163.05L221.23 167.87L221.59 168.08L221.94 172.19L222.3 171.53L222.64 176.55L222.99 170.88L223.33 169.81L223.68 170.58L224.02 172.13L224.37 174.42L224.71 171.83L225.06 172.48L225.4 172.57L225.77 170.8L226.14 166.93L226.51 166.87L226.89 165.45L227.26 163.99L227.63 157.46L228 154.69L228.35 155.72L228.7 155.71L229.05 153.31L229.4 155.33L229.75 150.31L230.1 146.45L230.43 140.94L230.77 135.55L231.1 129.06L231.43 121.76L231.77 115.73L232.1 114.59L232.5 109.07L232.9 101.59L233.3 94.16L233.7 86.34L234.06 92.31L234.42 98.69L234.78 98.83L235.14 104.91L235.5 114.3L235.86 115.6L236.22 118.1L236.58 126.6L236.94 129.42L237.3 134.54L237.67 136.53L238.03 137.47L238.4 138.47L238.77 138.89L239.13 140.72L239.5 147.6L239.84 152.97L240.19 155.67L240.53 157.33L240.88 159.94L241.22 162.52L241.57 167.47L241.91 167.46L242.26 172.35L242.6 176.55L242.95 176.77L243.3 174.93L243.65 177.22L244 177.97L244.35 178.73L244.69 178.19L245.04 181.68L245.38 181.83L245.73 180.99L246.07 180.84L246.42 181.69L246.76 184.24L247.11 182.48L247.45 184.15L247.8 186.14L248.14 186.18L248.47 182.92L248.81 187.93L249.14 188.95L249.48 185.6L249.81 189.52L250.15 186.14L250.49 184.27L250.82 187.91L251.16 185.38L251.49 184.11L251.83 183.33L252.16 182.29L252.5 182.31L252.83 182.77L253.16 182.41L253.49 183.44L253.83 179.88L254.16 180.38L254.49 180.91L254.82 182L255.15 181.22L255.48 184.01L255.82 181.63L256.15 182.2L256.48 183.44L256.81 180.37L257.14 177.75L257.47 180.35L257.81 180.62L258.14 181.19L258.47 182.76L258.8 180.03L259.14 181.9L259.49 181.16L259.83 180.42L260.18 180.86L260.52 181.38L260.87 184.29L261.21 182.22L261.56 181.04L261.9 184.62L262.26 180.18L262.61 174.99L262.97 180.64L263.32 177.28L263.68 180.77L264.03 183.29L264.39 181.32L264.74 176.37L265.1 174.84L265.45 172.67L265.8 163.19L266.15 160.6L266.5 159.08L266.95 147.92L267.4 139.95L267.76 133.87L268.12 124.96L268.48 122.94L268.84 109.91L269.2 102.17L269.55 111.34L269.9 111.66L270.25 119.58L270.6 123.11L270.95 128.13L271.3 132.76L271.65 136.68L272 140.53L272.35 145.28L272.7 146.97L273.04 145.28L273.38 143.72L273.72 142.07L274.06 136.5L274.4 132.4L274.74 136.77L275.08 142.06L275.42 144.79L275.76 154.21L276.1 158.54L276.45 166.32L276.8 179.84L277.14 178.19L277.48 180.22L277.81 181.31L278.15 184.32L278.49 184.97L278.83 185.09L279.17 183.1L279.5 183.02L279.84 186.34L280.18 187.14L280.52 188.54L280.86 184.59L281.2 186.82L281.53 183.2L281.87 187.99L282.21 185.99L282.55 186.32L282.89 185.94L283.22 189.62L283.56 184.8L283.9 186.41L284.24 183.31L284.57 180.89L284.91 183.19L285.24 180.61L285.58 184.88L285.91 182.67L286.25 186.1L286.59 183.24L286.92 179.4L287.26 181.7L287.59 186.94L287.93 183.25L288.26 184.53L288.6 183.4L288.94 185.74L289.29 188.1L289.63 189.78L289.98 189.06L290.32 192.15L290.67 193.54L291.01 196.25L291.36 196.38L291.7 197.59L292.05 196.03L292.41 195.97L292.76 196.87L293.12 200.15L293.47 203.66L293.83 200.72L294.18 197.52L294.54 200.68L294.89 204.53L295.25 203.7L295.6 205.63L295.95 205.45L296.31 205.27L296.66 203.73L297.02 203.74L297.37 206.33L297.73 203.51L298.08 202.74L298.44 202.63L298.79 203.74L299.15 203.98L299.5 202.53L299.86 200.15L300.21 191.83L300.57 188.83L300.92 184.01L301.28 180.08L301.63 177.66L301.99 169.28L302.34 165.59L302.7 158.96L303.04 168.38L303.38 166.75L303.72 174.54L304.06 178.5L304.4 183.42L304.74 186.55L305.08 189.98L305.42 199.18L305.76 202.2L306.1 205.85L306.45 207.01L306.79 212.17L307.13 208.87L307.48 210.52L307.83 209.21L308.17 210.25L308.51 211.04L308.86 210.26L309.21 211.62L309.55 210.07L309.9 210.78L310.24 211.45L310.59 210.95L310.93 213.75L311.27 210.81L311.62 210.49L311.97 214.34L312.31 213.6L312.65 215.62L313 215.87L313.33 218.16L313.67 212.67L314 210.88L314.33 210.78L314.66 214.05L315 214.51L315.33 212.92L315.66 213.88L316 216.09L316.33 216.12L316.66 218.37L316.99 216.01L317.33 212.6L317.66 217.19L317.99 216.22L318.33 214.97L318.66 213.28L318.99 218.05L319.32 217.06L319.66 212.03L319.99 216.64L320.32 216.23L320.66 217.29L320.99 218.39L321.32 215.53L321.66 216.17L321.99 214.23L322.32 219.79L322.65 215.18L322.99 217.46L323.32 213.41L323.65 214.16L323.99 214.74L324.32 217.79L324.65 212.85L324.98 213.02L325.32 213.42L325.65 213.91L325.98 216.37L326.32 213.36L326.65 214.87L326.98 211.58L327.31 210.94L327.65 213.01L327.98 217.65L328.31 219.69L328.65 214.9L328.98 216.09L329.31 215.39L329.64 218.78L329.98 218.73L330.31 218.61L330.64 216.74L330.98 221.51L331.31 216.42L331.64 219.66L331.98 216.97L332.31 216.64L332.64 218.33L332.97 219.05L333.31 215.47L333.64 217.98L333.97 218L334.31 216.13L334.64 214.82L334.97 218.7L335.3 218.5L335.64 221.95L335.97 219.71L336.3 217.58L336.64 218.46L336.97 218.47L337.3 219.06L337.63 223.1L337.97 218.98L338.3 217.64" stroke="#00f" stroke-width="1.05"/>
</g>
<rect x="39.9" y="3.8" width="299.1" height="220.6" fill="none" stroke="#000" stroke-width="1.6"/>
<line x1="34.4" y1="11" x2="39.9" y2="11" stroke="#000" stroke-width="1.4"/>
<line x1="36.9" y1="28.25" x2="39.9" y2="28.25" stroke="#000" stroke-width="1.4"/>
<line x1="34.4" y1="45.5" x2="39.9" y2="45.5" stroke="#000" stroke-width="1.4"/>
<line x1="36.9" y1="62.75" x2="39.9" y2="62.75" stroke="#000" stroke-width="1.4"/>
<line x1="34.4" y1="80" x2="39.9" y2="80" stroke="#000" stroke-width="1.4"/>
<line x1="36.9" y1="97.25" x2="39.9" y2="97.25" stroke="#000" stroke-width="1.4"/>
<line x1="34.4" y1="114.5" x2="39.9" y2="114.5" stroke="#000" stroke-width="1.4"/>
<line x1="36.9" y1="131.75" x2="39.9" y2="131.75" stroke="#000" stroke-width="1.4"/>
<line x1="34.4" y1="149" x2="39.9" y2="149" stroke="#000" stroke-width="1.4"/>
<line x1="36.9" y1="166.25" x2="39.9" y2="166.25" stroke="#000" stroke-width="1.4"/>
<line x1="34.4" y1="183.5" x2="39.9" y2="183.5" stroke="#000" stroke-width="1.4"/>
<line x1="36.9" y1="200.75" x2="39.9" y2="200.75" stroke="#000" stroke-width="1.4"/>
<line x1="34.4" y1="218" x2="39.9" y2="218" stroke="#000" stroke-width="1.4"/>
<line x1="51.5" y1="224.4" x2="51.5" y2="229.9" stroke="#000" stroke-width="1.4"/>
<text x="51.5" y="241.6" font-size="10.8" textLength="18.1" lengthAdjust="spacingAndGlyphs" text-anchor="middle">600</text>
<line x1="75.47" y1="224.4" x2="75.47" y2="227.6" stroke="#000" stroke-width="1.4"/>
<line x1="99.43" y1="224.4" x2="99.43" y2="229.9" stroke="#000" stroke-width="1.4"/>
<text x="99.43" y="241.6" font-size="10.8" textLength="18.1" lengthAdjust="spacingAndGlyphs" text-anchor="middle">800</text>
<line x1="123.39" y1="224.4" x2="123.39" y2="227.6" stroke="#000" stroke-width="1.4"/>
<line x1="147.36" y1="224.4" x2="147.36" y2="229.9" stroke="#000" stroke-width="1.4"/>
<text x="147.36" y="241.6" font-size="10.8" textLength="24.2" lengthAdjust="spacingAndGlyphs" text-anchor="middle">1000</text>
<line x1="171.32" y1="224.4" x2="171.32" y2="227.6" stroke="#000" stroke-width="1.4"/>
<line x1="195.29" y1="224.4" x2="195.29" y2="229.9" stroke="#000" stroke-width="1.4"/>
<text x="195.29" y="241.6" font-size="10.8" textLength="24.2" lengthAdjust="spacingAndGlyphs" text-anchor="middle">1200</text>
<line x1="219.25" y1="224.4" x2="219.25" y2="227.6" stroke="#000" stroke-width="1.4"/>
<line x1="243.22" y1="224.4" x2="243.22" y2="229.9" stroke="#000" stroke-width="1.4"/>
<text x="243.22" y="241.6" font-size="10.8" textLength="24.2" lengthAdjust="spacingAndGlyphs" text-anchor="middle">1400</text>
<line x1="267.19" y1="224.4" x2="267.19" y2="227.6" stroke="#000" stroke-width="1.4"/>
<line x1="291.15" y1="224.4" x2="291.15" y2="229.9" stroke="#000" stroke-width="1.4"/>
<text x="291.15" y="241.6" font-size="10.8" textLength="24.2" lengthAdjust="spacingAndGlyphs" text-anchor="middle">1600</text>
<line x1="315.12" y1="224.4" x2="315.12" y2="227.6" stroke="#000" stroke-width="1.4"/>
<line x1="339.08" y1="224.4" x2="339.08" y2="229.9" stroke="#000" stroke-width="1.4"/>
<text x="339.08" y="241.6" font-size="10.8" textLength="24.2" lengthAdjust="spacingAndGlyphs" text-anchor="middle">1800</text>
<rect x="42.5" y="6.3" width="169.5" height="44.1" fill="#fff" stroke="#8a8a8a" stroke-width="1.1"/>
<line x1="48.7" y1="14.5" x2="73.2" y2="14.5" stroke="#000" stroke-width="1.1"/>
<text x="77" y="17.7" font-size="10.3" textLength="82.2" lengthAdjust="spacingAndGlyphs" text-anchor="start">R6G on Silicon</text>
<line x1="48.7" y1="29.4" x2="73.2" y2="29.4" stroke="#f00" stroke-width="1.1"/>
<text x="77" y="32.6" font-size="10.3" textLength="131" lengthAdjust="spacingAndGlyphs" text-anchor="start">R6G on C12-Au NP Film</text>
<line x1="48.7" y1="44.3" x2="73.2" y2="44.3" stroke="#00f" stroke-width="1.1"/>
<text x="77" y="47.5" font-size="10.3" textLength="131" lengthAdjust="spacingAndGlyphs" text-anchor="start">R6G on C18-Au NP Film</text>
<line x1="62.3" y1="80" x2="62.3" y2="115.5" stroke="#000" stroke-width="1.5"/>
<line x1="59.6" y1="80" x2="65" y2="80" stroke="#000" stroke-width="1.5"/>
<line x1="59.6" y1="115.5" x2="65" y2="115.5" stroke="#000" stroke-width="1.5"/>
<text x="71.4" y="71.2" font-size="10" textLength="53.8" lengthAdjust="spacingAndGlyphs" text-anchor="start" transform="rotate(90 71.4 71.2)">1000 CPS</text>
<text x="25.3" y="183.6" font-size="14.2" textLength="145.5" lengthAdjust="spacingAndGlyphs" text-anchor="start" transform="rotate(-90 25.3 183.6)">Raman Intensity (a.u.)</text>
<text x="129.4" y="261" font-size="12.5" textLength="107.1" lengthAdjust="spacingAndGlyphs" text-anchor="start">Raman Shift (cm</text>
<text x="236.6" y="253.3" font-size="8.2" textLength="6.2" lengthAdjust="spacingAndGlyphs" text-anchor="start">-1</text>
<text x="243.9" y="261" font-size="12.5" textLength="4.6" lengthAdjust="spacingAndGlyphs" text-anchor="start">)</text>
<text x="1.6" y="19.1" font-size="23" textLength="6.6" lengthAdjust="spacingAndGlyphs" text-anchor="start">(</text>
<text x="9.4" y="18.6" font-size="23" textLength="11.6" lengthAdjust="spacingAndGlyphs" text-anchor="start">a</text>
<text x="23" y="19.1" font-size="23" textLength="6.6" lengthAdjust="spacingAndGlyphs" text-anchor="start">)</text>
<line x1="569.5" y1="5.7" x2="569.5" y2="226" stroke="#c8c8c8" stroke-width="0.6" stroke-dasharray="1 1"/>
<rect x="472.4" y="37.8" width="45" height="188.2" fill="#f00" stroke="#600" stroke-width="0.8"/>
<line x1="494.9" y1="18.4" x2="494.9" y2="57.5" stroke="#000" stroke-width="1.8"/>
<line x1="491.9" y1="18.4" x2="497.9" y2="18.4" stroke="#000" stroke-width="1.6"/>
<line x1="491.9" y1="57.5" x2="497.9" y2="57.5" stroke="#000" stroke-width="1.6"/>
<rect x="621.6" y="149.3" width="44.7" height="76.7" fill="#f00" stroke="#600" stroke-width="0.8"/>
<line x1="643.95" y1="136.3" x2="643.95" y2="162.2" stroke="#000" stroke-width="1.8"/>
<line x1="640.95" y1="136.3" x2="646.95" y2="136.3" stroke="#000" stroke-width="1.6"/>
<line x1="640.95" y1="162.2" x2="646.95" y2="162.2" stroke="#000" stroke-width="1.6"/>
<rect x="420.1" y="4.7" width="298.3" height="221.3" fill="none" stroke="#000" stroke-width="1.6"/>
<line x1="415.3" y1="226" x2="420.1" y2="226" stroke="#000" stroke-width="1.4"/>
<line x1="417.1" y1="200.22" x2="420.1" y2="200.22" stroke="#000" stroke-width="1.4"/>
<text x="412.8" y="227.8" font-size="10.4" textLength="16.2" lengthAdjust="spacingAndGlyphs" text-anchor="end">0.0</text>
<line x1="415.3" y1="174.44" x2="420.1" y2="174.44" stroke="#000" stroke-width="1.4"/>
<line x1="417.1" y1="148.66" x2="420.1" y2="148.66" stroke="#000" stroke-width="1.4"/>
<text x="373.3" y="179.34" font-size="10.4" textLength="34.6" lengthAdjust="spacingAndGlyphs" text-anchor="start">2.0x10</text>
<text x="408.9" y="173.44" font-size="6.8" textLength="4" lengthAdjust="spacingAndGlyphs" text-anchor="start">4</text>
<line x1="415.3" y1="122.88" x2="420.1" y2="122.88" stroke="#000" stroke-width="1.4"/>
<line x1="417.1" y1="97.1" x2="420.1" y2="97.1" stroke="#000" stroke-width="1.4"/>
<text x="373.3" y="127.78" font-size="10.4" textLength="34.6" lengthAdjust="spacingAndGlyphs" text-anchor="start">4.0x10</text>
<text x="408.9" y="121.88" font-size="6.8" textLength="4" lengthAdjust="spacingAndGlyphs" text-anchor="start">4</text>
<line x1="415.3" y1="71.32" x2="420.1" y2="71.32" stroke="#000" stroke-width="1.4"/>
<line x1="417.1" y1="45.54" x2="420.1" y2="45.54" stroke="#000" stroke-width="1.4"/>
<text x="373.3" y="76.22" font-size="10.4" textLength="34.6" lengthAdjust="spacingAndGlyphs" text-anchor="start">6.0x10</text>
<text x="408.9" y="70.32" font-size="6.8" textLength="4" lengthAdjust="spacingAndGlyphs" text-anchor="start">4</text>
<line x1="415.3" y1="19.76" x2="420.1" y2="19.76" stroke="#000" stroke-width="1.4"/>
<text x="373.3" y="24.66" font-size="10.4" textLength="34.6" lengthAdjust="spacingAndGlyphs" text-anchor="start">8.0x10</text>
<text x="408.9" y="18.76" font-size="6.8" textLength="4" lengthAdjust="spacingAndGlyphs" text-anchor="start">4</text>
<line x1="569.5" y1="223" x2="569.5" y2="229.5" stroke="#000" stroke-width="1.6"/>
<line x1="420.1" y1="226" x2="420.1" y2="229" stroke="#000" stroke-width="1.6"/>
<line x1="718.4" y1="226" x2="718.4" y2="229" stroke="#000" stroke-width="1.6"/>
<text x="452" y="259" font-size="11.6" textLength="86.5" lengthAdjust="spacingAndGlyphs" text-anchor="start">C12-Au NP Film</text>
<text x="601.5" y="259" font-size="11.6" textLength="86.5" lengthAdjust="spacingAndGlyphs" text-anchor="start">C18-Au NP Film</text>
<text x="365" y="208.3" font-size="14.2" textLength="168" lengthAdjust="spacingAndGlyphs" text-anchor="start" transform="rotate(-90 365 208.3)">Enhancement Factor (EF)</text>
<text x="343.1" y="19.3" font-size="23" textLength="6.6" lengthAdjust="spacingAndGlyphs" text-anchor="start">(</text>
<text x="350.9" y="18.8" font-size="21.5" textLength="14" lengthAdjust="spacingAndGlyphs" text-anchor="start">b</text>
<text x="365.8" y="19.3" font-size="23" textLength="6.6" lengthAdjust="spacingAndGlyphs" text-anchor="start">)</text>
<g clip-path="url(#cc)">
<path d="M40.5 502.8L40.5 502L60 501L80 497L89.7 491L99.4 489.1L104.3 480.8L109.1 479.9L113 475L114.9 473L117 468.6L120.4 467.5L125.3 462.4L128.8 461.2L131.5 458.2L137.8 441.6L145 420.8L150.8 400L156.4 381.2L162.4 358.9L167.2 345L171 335.8L175.5 325.9L178.2 313.7L180.4 306.5L184.8 300.5L188.7 301L192 299.9L194.8 299.1L197 304.3L199.7 310.4L204.7 318.1L206.4 325.9L208.6 335.8L210.8 345L213.1 356.9L219.2 377.2L220.5 382L224.5 398L225.7 403L231.4 421.4L236 435.2L239.5 449L245.2 460.5L252.1 472L259 481.2L268.2 487L270 488.9L277.4 493.5L285 495.5L289 495L292 497L300 498.5L339.5 499.5L339.5 502.8Z" fill="#ffff00" fill-opacity="0.32" stroke="#ffff00" stroke-opacity="0.2" stroke-width="0.8"/>
<path d="M40.5 502.8L40.5 502L60 499L63.6 494.5L66 498L100 497L114.9 493L118 492L120.8 484.7L125.6 486.7L132.4 481.8L138.3 478.9L141 474L145.3 473.6L149.7 467.7L155.6 464L160.8 455.9L165.9 447.8L170.3 445.6L174.8 438.3L179.9 435.3L185.8 436L190.2 437.5L194.6 439L199.8 437.5L204.2 441.2L208.6 448.6L213.1 454.5L217.5 460.3L223.4 469.2L229.3 476.5L236 480L245.2 483.5L252.1 488.1L263.6 490.4L277.4 494.4L282 495.5L300 496.6L310 496.1L320 495.5L330 496.6L339.5 497.8L339.5 502.8Z" fill="#c1c1c1" fill-opacity="0.6"/>
<path d="M40.5 502.8L40.5 502L46 500L50 499.5L54 500.5L60 502L80 497.5L88.7 496.8L92 501L96.5 498L100.4 494.9L112 498.8L115 501L116.4 497L120.8 493L132.4 492.5L135.3 494.4L140 490L147 487.6L149.7 483.2L155.6 480.7L160 479.5L165.2 473.6L170.3 473.6L174.8 471.4L179.2 471.4L185.1 467.7L191 467.7L194.6 466.7L199.8 468.4L205.7 472.1L211.6 475.8L217.5 481L223.4 486.9L227.8 489.8L238.3 492.7L249.8 497.3L262 498L269.4 495L274 498L282 500.5L300 502L304.4 500L308 502.5L320 502.5L324 500.5L328 502L333 498L339.5 499L339.5 502.8Z" fill="#0000ff" fill-opacity="0.59" stroke="#2020ff" stroke-opacity="0.5" stroke-width="0.8"/>
<path d="M40.5 502.8L40.5 498.7L45.5 499.4L48.3 500.8L55.3 500.8L59.4 496.6L65 495.9L74.7 495.9L80 495.9L89.7 490.5L117.9 492.5L120.8 491.5L125.6 489.1L132.4 489.1L135.8 491L140.2 484.7L144 485.7L147 485L151.2 483.9L155.6 483.2L160 483.9L164.5 484.6L170.3 481.7L174.8 486.1L179.2 481.7L185.1 479.5L190.2 478.8L195.4 473.6L199.8 481L205.7 483.9L213.1 486.9L220.4 486.9L225.6 490.5L229.3 486.1L236 492.7L245.2 492.7L252.1 498.5L259 497.3L265 497L270 496L274.4 494.4L282 498.3L290 500L298 501.6L302 502.5L306 501L310 499.4L314 501.5L318 500L322 502L327 501L332 500L336 498.9L339.5 496.6L339.5 502.8Z" fill="#ff00ff" fill-opacity="0.65"/>
<path d="M40.5 502.8L40.5 501.5L84 501.5L86 499L89.7 497.8L93 499L95.5 501.5L104 500.7L135 500.2L137 498.5L140.2 496.8L143 498L145.3 499.4L154.1 496.4L164.5 494.2L170.3 497.2L174.8 493.5L180.7 495.7L185.1 496.4L190.2 492.7L193.9 497.2L199.8 500.1L205 493.5L210.1 497.2L217.5 497.9L224.8 500.8L240 501.5L284 501.5L288.9 498.9L292 501.5L339.5 501.5L339.5 502.8Z" fill="#ff8c00" fill-opacity="0.6"/>
</g>
<rect x="40.2" y="280.9" width="299.9" height="221.9" fill="none" stroke="#000" stroke-width="1.6"/>
<line x1="34.9" y1="283.5" x2="40.2" y2="283.5" stroke="#000" stroke-width="1.4"/>
<line x1="37.2" y1="310.9" x2="40.2" y2="310.9" stroke="#000" stroke-width="1.4"/>
<line x1="34.9" y1="338.3" x2="40.2" y2="338.3" stroke="#000" stroke-width="1.4"/>
<line x1="37.2" y1="365.7" x2="40.2" y2="365.7" stroke="#000" stroke-width="1.4"/>
<line x1="34.9" y1="393.1" x2="40.2" y2="393.1" stroke="#000" stroke-width="1.4"/>
<line x1="37.2" y1="420.5" x2="40.2" y2="420.5" stroke="#000" stroke-width="1.4"/>
<line x1="34.9" y1="447.9" x2="40.2" y2="447.9" stroke="#000" stroke-width="1.4"/>
<line x1="37.2" y1="475.3" x2="40.2" y2="475.3" stroke="#000" stroke-width="1.4"/>
<line x1="40.2" y1="502.8" x2="40.2" y2="508.3" stroke="#000" stroke-width="1.4"/>
<text x="40.2" y="520.3" font-size="10.8" textLength="25.3" lengthAdjust="spacingAndGlyphs" text-anchor="middle">1620</text>
<line x1="90.2" y1="502.8" x2="90.2" y2="506" stroke="#000" stroke-width="1.4"/>
<line x1="140.2" y1="502.8" x2="140.2" y2="508.3" stroke="#000" stroke-width="1.4"/>
<text x="140.2" y="520.3" font-size="10.8" textLength="25.3" lengthAdjust="spacingAndGlyphs" text-anchor="middle">1640</text>
<line x1="190.2" y1="502.8" x2="190.2" y2="506" stroke="#000" stroke-width="1.4"/>
<line x1="240.2" y1="502.8" x2="240.2" y2="508.3" stroke="#000" stroke-width="1.4"/>
<text x="240.2" y="520.3" font-size="10.8" textLength="25.3" lengthAdjust="spacingAndGlyphs" text-anchor="middle">1660</text>
<line x1="290.2" y1="502.8" x2="290.2" y2="506" stroke="#000" stroke-width="1.4"/>
<line x1="340.2" y1="502.8" x2="340.2" y2="508.3" stroke="#000" stroke-width="1.4"/>
<text x="340.2" y="520.3" font-size="10.8" textLength="25.3" lengthAdjust="spacingAndGlyphs" text-anchor="middle">1680</text>
<line x1="64.1" y1="369.5" x2="64.1" y2="397.3" stroke="#000" stroke-width="1.5"/>
<line x1="61.4" y1="369.5" x2="66.8" y2="369.5" stroke="#000" stroke-width="1.5"/>
<line x1="61.4" y1="397.3" x2="66.8" y2="397.3" stroke="#000" stroke-width="1.5"/>
<text x="71.3" y="356.2" font-size="10" textLength="53.8" lengthAdjust="spacingAndGlyphs" text-anchor="start" transform="rotate(90 71.3 356.2)">1000 CPS</text>
<rect x="252.6" y="283.2" width="86.6" height="86" fill="#fff" stroke="#a0a0a0" stroke-width="0.9"/>
<rect x="261.3" y="289.1" width="24.6" height="11.9" fill="#ffffaa"/>
<text x="289.6" y="299" font-size="10.6" textLength="25.8" lengthAdjust="spacingAndGlyphs" text-anchor="start">1x10</text>
<text x="315" y="294.3" font-size="6.6" textLength="3.5" lengthAdjust="spacingAndGlyphs" text-anchor="start">3</text>
<text x="322.2" y="299" font-size="10.6" style="font-weight:normal" textLength="6.2" lengthAdjust="spacingAndGlyphs">&#956;</text>
<text x="328.3" y="299" font-size="10.6" textLength="9.4" lengthAdjust="spacingAndGlyphs" text-anchor="start">M</text>
<rect x="261.3" y="305.05" width="24.6" height="11.9" fill="#d9d9d9"/>
<text x="289.6" y="314.95" font-size="10.6" textLength="25.8" lengthAdjust="spacingAndGlyphs" text-anchor="start">1x10</text>
<text x="315" y="310.25" font-size="6.6" textLength="3.5" lengthAdjust="spacingAndGlyphs" text-anchor="start">2</text>
<text x="322.2" y="314.95" font-size="10.6" style="font-weight:normal" textLength="6.2" lengthAdjust="spacingAndGlyphs">&#956;</text>
<text x="328.3" y="314.95" font-size="10.6" textLength="9.4" lengthAdjust="spacingAndGlyphs" text-anchor="start">M</text>
<rect x="261.3" y="321" width="24.6" height="11.9" fill="#5c5cff"/>
<text x="289.6" y="330.9" font-size="10.6" textLength="25.8" lengthAdjust="spacingAndGlyphs" text-anchor="start">5x10</text>
<text x="315" y="326.2" font-size="6.6" textLength="3.5" lengthAdjust="spacingAndGlyphs" text-anchor="start">1</text>
<text x="322.2" y="330.9" font-size="10.6" style="font-weight:normal" textLength="6.2" lengthAdjust="spacingAndGlyphs">&#956;</text>
<text x="328.3" y="330.9" font-size="10.6" textLength="9.4" lengthAdjust="spacingAndGlyphs" text-anchor="start">M</text>
<rect x="261.3" y="336.95" width="24.6" height="11.9" fill="#ff5cff"/>
<text x="289.6" y="346.85" font-size="10.6" textLength="25.8" lengthAdjust="spacingAndGlyphs" text-anchor="start">1x10</text>
<text x="315" y="342.15" font-size="6.6" textLength="3.5" lengthAdjust="spacingAndGlyphs" text-anchor="start">1</text>
<text x="322.2" y="346.85" font-size="10.6" style="font-weight:normal" textLength="6.2" lengthAdjust="spacingAndGlyphs">&#956;</text>
<text x="328.3" y="346.85" font-size="10.6" textLength="9.4" lengthAdjust="spacingAndGlyphs" text-anchor="start">M</text>
<rect x="261.3" y="352.9" width="24.6" height="11.9" fill="#ffb066"/>
<text x="289.6" y="362.8" font-size="10.6" textLength="25.8" lengthAdjust="spacingAndGlyphs" text-anchor="start">1x10</text>
<text x="315" y="358.1" font-size="6.6" textLength="3.5" lengthAdjust="spacingAndGlyphs" text-anchor="start">0</text>
<text x="322.2" y="362.8" font-size="10.6" style="font-weight:normal" textLength="6.2" lengthAdjust="spacingAndGlyphs">&#956;</text>
<text x="328.3" y="362.8" font-size="10.6" textLength="9.4" lengthAdjust="spacingAndGlyphs" text-anchor="start">M</text>
<text x="25.3" y="475.2" font-size="14.2" textLength="145.5" lengthAdjust="spacingAndGlyphs" text-anchor="start" transform="rotate(-90 25.3 475.2)">Raman Intensity (a.u.)</text>
<text x="135.8" y="538.6" font-size="12.5" textLength="107.1" lengthAdjust="spacingAndGlyphs" text-anchor="start">Raman Shift (cm</text>
<text x="243.6" y="531" font-size="8.2" textLength="6.2" lengthAdjust="spacingAndGlyphs" text-anchor="start">-1</text>
<text x="250.9" y="538.6" font-size="12.5" textLength="4.6" lengthAdjust="spacingAndGlyphs" text-anchor="start">)</text>
<text x="1.5" y="289.9" font-size="23" textLength="6.6" lengthAdjust="spacingAndGlyphs" text-anchor="start">(</text>
<text x="9.3" y="289.4" font-size="22" textLength="12.6" lengthAdjust="spacingAndGlyphs" text-anchor="start">c</text>
<text x="23.2" y="289.9" font-size="23" textLength="6.6" lengthAdjust="spacingAndGlyphs" text-anchor="start">)</text>
<rect x="418.1" y="282.8" width="299.8" height="221.6" fill="none" stroke="#000" stroke-width="1.6"/>
<line x1="412.9" y1="426.6" x2="418.1" y2="426.6" stroke="#000" stroke-width="1.4"/>
<text x="394" y="431" font-size="11.4" textLength="12.3" lengthAdjust="spacingAndGlyphs" text-anchor="start">10</text>
<text x="406.3" y="424.2" font-size="6.8" textLength="4.2" lengthAdjust="spacingAndGlyphs" text-anchor="start">4</text>
<line x1="412.9" y1="316.2" x2="418.1" y2="316.2" stroke="#000" stroke-width="1.4"/>
<text x="394" y="320.6" font-size="11.4" textLength="12.3" lengthAdjust="spacingAndGlyphs" text-anchor="start">10</text>
<text x="406.3" y="313.8" font-size="6.8" textLength="4.2" lengthAdjust="spacingAndGlyphs" text-anchor="start">5</text>
<line x1="415.1" y1="487.29" x2="418.1" y2="487.29" stroke="#000" stroke-width="1.3"/>
<line x1="415.1" y1="474.08" x2="418.1" y2="474.08" stroke="#000" stroke-width="1.3"/>
<line x1="415.1" y1="463.79" x2="418.1" y2="463.79" stroke="#000" stroke-width="1.3"/>
<line x1="415.1" y1="455.15" x2="418.1" y2="455.15" stroke="#000" stroke-width="1.3"/>
<line x1="415.1" y1="448.06" x2="418.1" y2="448.06" stroke="#000" stroke-width="1.3"/>
<line x1="415.1" y1="441.46" x2="418.1" y2="441.46" stroke="#000" stroke-width="1.3"/>
<line x1="415.1" y1="435.92" x2="418.1" y2="435.92" stroke="#000" stroke-width="1.3"/>
<line x1="415.1" y1="431.07" x2="418.1" y2="431.07" stroke="#000" stroke-width="1.3"/>
<line x1="415.1" y1="395.72" x2="418.1" y2="395.72" stroke="#000" stroke-width="1.3"/>
<line x1="415.1" y1="376.89" x2="418.1" y2="376.89" stroke="#000" stroke-width="1.3"/>
<line x1="415.1" y1="363.68" x2="418.1" y2="363.68" stroke="#000" stroke-width="1.3"/>
<line x1="415.1" y1="353.39" x2="418.1" y2="353.39" stroke="#000" stroke-width="1.3"/>
<line x1="415.1" y1="344.75" x2="418.1" y2="344.75" stroke="#000" stroke-width="1.3"/>
<line x1="415.1" y1="337.66" x2="418.1" y2="337.66" stroke="#000" stroke-width="1.3"/>
<line x1="415.1" y1="331.06" x2="418.1" y2="331.06" stroke="#000" stroke-width="1.3"/>
<line x1="415.1" y1="325.52" x2="418.1" y2="325.52" stroke="#000" stroke-width="1.3"/>
<line x1="415.1" y1="320.67" x2="418.1" y2="320.67" stroke="#000" stroke-width="1.3"/>
<line x1="415.1" y1="285.32" x2="418.1" y2="285.32" stroke="#000" stroke-width="1.3"/>
<line x1="477.5" y1="504.4" x2="477.5" y2="509.9" stroke="#000" stroke-width="1.4"/>
<text x="468.5" y="524" font-size="11" textLength="11.8" lengthAdjust="spacingAndGlyphs" text-anchor="start">10</text>
<text x="480.9" y="517.6" font-size="6.8" textLength="6.4" lengthAdjust="spacingAndGlyphs" text-anchor="start">-5</text>
<line x1="591.2" y1="504.4" x2="591.2" y2="509.9" stroke="#000" stroke-width="1.4"/>
<text x="582.2" y="524" font-size="11" textLength="11.8" lengthAdjust="spacingAndGlyphs" text-anchor="start">10</text>
<text x="594.6" y="517.6" font-size="6.8" textLength="6.4" lengthAdjust="spacingAndGlyphs" text-anchor="start">-4</text>
<line x1="704.9" y1="504.4" x2="704.9" y2="509.9" stroke="#000" stroke-width="1.4"/>
<text x="695.9" y="524" font-size="11" textLength="11.8" lengthAdjust="spacingAndGlyphs" text-anchor="start">10</text>
<text x="708.3" y="517.6" font-size="6.8" textLength="6.4" lengthAdjust="spacingAndGlyphs" text-anchor="start">-3</text>
<line x1="428.6" y1="504.4" x2="428.6" y2="507.6" stroke="#000" stroke-width="1.3"/>
<line x1="439.2" y1="504.4" x2="439.2" y2="507.6" stroke="#000" stroke-width="1.3"/>
<line x1="448.1" y1="504.4" x2="448.1" y2="507.6" stroke="#000" stroke-width="1.3"/>
<line x1="455.4" y1="504.4" x2="455.4" y2="507.6" stroke="#000" stroke-width="1.3"/>
<line x1="462.2" y1="504.4" x2="462.2" y2="507.6" stroke="#000" stroke-width="1.3"/>
<line x1="467.9" y1="504.4" x2="467.9" y2="507.6" stroke="#000" stroke-width="1.3"/>
<line x1="472.9" y1="504.4" x2="472.9" y2="507.6" stroke="#000" stroke-width="1.3"/>
<line x1="509.3" y1="504.4" x2="509.3" y2="507.6" stroke="#000" stroke-width="1.3"/>
<line x1="528.7" y1="504.4" x2="528.7" y2="507.6" stroke="#000" stroke-width="1.3"/>
<line x1="542.3" y1="504.4" x2="542.3" y2="507.6" stroke="#000" stroke-width="1.3"/>
<line x1="552.9" y1="504.4" x2="552.9" y2="507.6" stroke="#000" stroke-width="1.3"/>
<line x1="561.8" y1="504.4" x2="561.8" y2="507.6" stroke="#000" stroke-width="1.3"/>
<line x1="569.1" y1="504.4" x2="569.1" y2="507.6" stroke="#000" stroke-width="1.3"/>
<line x1="575.9" y1="504.4" x2="575.9" y2="507.6" stroke="#000" stroke-width="1.3"/>
<line x1="581.6" y1="504.4" x2="581.6" y2="507.6" stroke="#000" stroke-width="1.3"/>
<line x1="586.6" y1="504.4" x2="586.6" y2="507.6" stroke="#000" stroke-width="1.3"/>
<line x1="623" y1="504.4" x2="623" y2="507.6" stroke="#000" stroke-width="1.3"/>
<line x1="642.4" y1="504.4" x2="642.4" y2="507.6" stroke="#000" stroke-width="1.3"/>
<line x1="656" y1="504.4" x2="656" y2="507.6" stroke="#000" stroke-width="1.3"/>
<line x1="666.6" y1="504.4" x2="666.6" y2="507.6" stroke="#000" stroke-width="1.3"/>
<line x1="675.5" y1="504.4" x2="675.5" y2="507.6" stroke="#000" stroke-width="1.3"/>
<line x1="682.8" y1="504.4" x2="682.8" y2="507.6" stroke="#000" stroke-width="1.3"/>
<line x1="689.6" y1="504.4" x2="689.6" y2="507.6" stroke="#000" stroke-width="1.3"/>
<line x1="695.3" y1="504.4" x2="695.3" y2="507.6" stroke="#000" stroke-width="1.3"/>
<line x1="700.3" y1="504.4" x2="700.3" y2="507.6" stroke="#000" stroke-width="1.3"/>
<line x1="441.6" y1="462.2" x2="704.5" y2="301.5" stroke="#f00" stroke-width="1.9" stroke-dasharray="5.2 3.2"/>
<line x1="443.2" y1="463.5" x2="443.2" y2="473.8" stroke="#000" stroke-width="1.6"/>
<line x1="440.2" y1="463.5" x2="446.2" y2="463.5" stroke="#000" stroke-width="1.7"/>
<line x1="440.2" y1="473.8" x2="446.2" y2="473.8" stroke="#000" stroke-width="1.7"/>
<rect x="440.8" y="466.1" width="4.8" height="5" fill="#000"/>
<line x1="477.5" y1="434.9" x2="477.5" y2="445.4" stroke="#000" stroke-width="1.6"/>
<line x1="474.5" y1="434.9" x2="480.5" y2="434.9" stroke="#000" stroke-width="1.7"/>
<line x1="474.5" y1="445.4" x2="480.5" y2="445.4" stroke="#000" stroke-width="1.7"/>
<rect x="475.1" y="437.4" width="4.8" height="5" fill="#000"/>
<line x1="557" y1="387" x2="557" y2="397.4" stroke="#000" stroke-width="1.6"/>
<line x1="554" y1="387" x2="560" y2="387" stroke="#000" stroke-width="1.7"/>
<line x1="554" y1="397.4" x2="560" y2="397.4" stroke="#000" stroke-width="1.7"/>
<rect x="554.6" y="389.7" width="4.8" height="5" fill="#000"/>
<line x1="590.8" y1="361.6" x2="590.8" y2="368.4" stroke="#000" stroke-width="1.6"/>
<line x1="587.8" y1="361.6" x2="593.8" y2="361.6" stroke="#000" stroke-width="1.7"/>
<line x1="587.8" y1="368.4" x2="593.8" y2="368.4" stroke="#000" stroke-width="1.7"/>
<rect x="588.4" y="362.5" width="4.8" height="5" fill="#000"/>
<line x1="705" y1="298.6" x2="705" y2="305.8" stroke="#000" stroke-width="1.6"/>
<line x1="702" y1="298.6" x2="708" y2="298.6" stroke="#000" stroke-width="1.7"/>
<line x1="702" y1="305.8" x2="708" y2="305.8" stroke="#000" stroke-width="1.7"/>
<rect x="702.6" y="299.7" width="4.8" height="5" fill="#000"/>
<rect x="420.5" y="285.3" width="93.5" height="30.1" fill="#fff" stroke="#a0a0a0" stroke-width="0.9"/>
<rect x="433.0" y="291.6" width="4" height="4" fill="#000"/>
<text x="449.3" y="297.2" font-size="10.6" textLength="63.2" lengthAdjust="spacingAndGlyphs" text-anchor="start">Experiment</text>
<line x1="423" y1="308.8" x2="441.6" y2="308.8" stroke="#f00" stroke-width="1.9" stroke-dasharray="4.6 2.4"/>
<text x="449.3" y="311.8" font-size="10.6" textLength="52.5" lengthAdjust="spacingAndGlyphs" text-anchor="start">Linear Fit</text>
<text x="450.3" y="331.1" font-size="10.6" textLength="7.4" lengthAdjust="spacingAndGlyphs" text-anchor="start">R</text>
<text x="458.1" y="326.3" font-size="7" textLength="3.5" lengthAdjust="spacingAndGlyphs" text-anchor="start">2</text>
<text x="461.4" y="331.3" font-size="10.6" textLength="37.3" lengthAdjust="spacingAndGlyphs" text-anchor="start">=0.993</text>
<text x="385.1" y="474.8" font-size="14.2" textLength="145.5" lengthAdjust="spacingAndGlyphs" text-anchor="start" transform="rotate(-90 385.1 474.8)">Raman Intensity (a.u.)</text>
<text x="486.3" y="537.8" font-size="12.6" textLength="172" lengthAdjust="spacingAndGlyphs" text-anchor="start">R6G Concentration (mol/L)</text>
<text x="342.8" y="289.8" font-size="23" textLength="6.6" lengthAdjust="spacingAndGlyphs" text-anchor="start">(</text>
<text x="351" y="289.3" font-size="21.5" text-anchor="start">d</text>
<text x="365.8" y="289.8" font-size="23" textLength="6.6" lengthAdjust="spacingAndGlyphs" text-anchor="start">)</text>
</svg>
</body></html>
